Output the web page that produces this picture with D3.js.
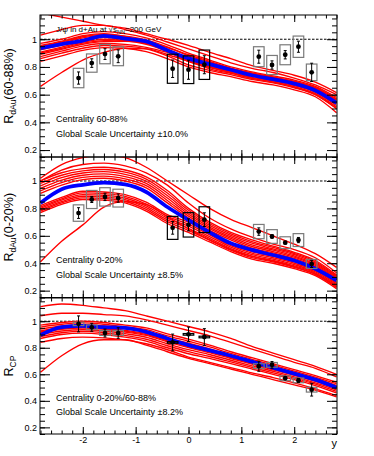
<!DOCTYPE html>
<html>
<head>
<meta charset="utf-8">
<script src="https://cdn.jsdelivr.net/npm/d3@7"></script>
<style>
body { margin: 0; background: #fff; }
svg { display: block; font-family: "Liberation Sans", Arial, Helvetica, sans-serif; }
</style>
</head>
<body>
<div id="chart"></div>
<script>

//Rapidity grid of the model curves
var curveY = [-2.8,-2.4,-2.0,-1.6,-1.2,-0.8,-0.4,0,0.4,0.8,1.2,1.6,2.0,2.4,2.8];

//Data points: rapidity of each bin, and the mid-rapidity flag (black boxes)
var pointY = [-2.08,-1.83,-1.58,-1.33,-0.3,0,0.3,1.33,1.58,1.83,2.08,2.33];
var midRap = [0,0,0,0,1,1,1,0,0,0,0,0];

//R_dAu 60-88%
var rPeri = [0.72,0.828,0.893,0.877,0.787,0.78,0.816,0.874,0.814,0.888,0.946,0.761];
var statPeri = [0.044,0.031,0.039,0.046,0.063,0.069,0.065,0.047,0.03,0.03,0.04,0.066];
var sysPeri = [0.07,0.066,0.07,0.068,0.105,0.1,0.106,0.072,0.069,0.072,0.077,0.06];

//R_dAu 0-20%
var rCent = [0.766,0.865,0.884,0.875,0.658,0.68,0.718,0.631,0.595,0.55,0.569,0.395];
var statCent = [0.039,0.022,0.027,0.03,0.046,0.044,0.05,0.027,0.012,0.01,0.019,0.026];
var sysCent = [0.06,0.066,0.067,0.065,0.084,0.089,0.094,0.052,0.05,0.043,0.047,0.033];

//R_CP
var rCP = [0.98,0.954,0.911,0.911,0.84,0.901,0.881,0.661,0.671,0.57,0.554,0.484];
var statCP = [0.06,0.03,0.03,0.04,0.063,0.055,0.063,0.038,0.025,0.01,0.015,0.048];
var sysCP = [0.013,0.018,0.018,0.018,0.006,0.006,0.006,0.018,0.018,0.018,0.018,0.018];

//Model curves, 60-88%
var bluePeri = [0.935,0.965,0.99,1.025,1.005,0.985,0.92,0.862,0.82,0.78,0.74,0.712,0.68,0.63,0.54];
var redPeri = [
  [0.86,0.90,0.935,0.955,0.95,0.93,0.88,0.815,0.775,0.745,0.71,0.685,0.65,0.60,0.50],
  [0.875,0.914,0.95,0.969,0.963,0.941,0.905,0.86,0.828,0.784,0.749,0.721,0.689,0.643,0.557],
  [0.955,0.986,1.025,1.041,1.02,0.975,0.91,0.839,0.796,0.76,0.725,0.699,0.665,0.617,0.522],
  [0.907,0.943,0.98,0.998,0.989,0.964,0.914,0.852,0.807,0.769,0.734,0.707,0.674,0.626,0.534],
  [0.923,0.957,0.995,1.012,1.001,0.976,0.926,0.863,0.818,0.776,0.741,0.714,0.681,0.634,0.546],
  [0.938,0.971,1.01,1.026,1.014,0.987,0.925,0.845,0.786,0.753,0.718,0.692,0.658,0.608,0.511],
  [0.891,0.928,0.964,0.983,0.985,0.975,0.94,0.888,0.84,0.792,0.757,0.728,0.697,0.652,0.569],
  [0.97,1.0,1.04,1.055,1.04,1.01,0.96,0.90,0.85,0.80,0.765,0.735,0.705,0.66,0.58],
  [0.90,0.935,0.972,0.99,0.995,0.97,0.92,0.858,0.813,0.772,0.737,0.71,0.677,0.63,0.54],
  [0.948,0.98,1.018,1.034,1.022,0.995,0.944,0.88,0.834,0.788,0.753,0.725,0.693,0.648,0.563],
  [1.19,1.16,1.13,1.10,1.08,1.04,1.0,0.955,0.905,0.86,0.81,0.775,0.74,0.69,0.615],
  [1.03,1.07,1.1,1.1,1.07,1.03,0.98,0.93,0.88,0.83,0.79,0.76,0.72,0.67,0.6],
  [0.66,0.76,0.85,0.905,0.935,0.93,0.89,0.84,0.8,0.76,0.72,0.69,0.655,0.6,0.5],
  [0.84,0.88,0.92,0.94,0.935,0.91,0.86,0.8,0.76,0.73,0.695,0.67,0.635,0.585,0.47]
];

//Model curves, 0-20%
var blueCent = [0.84,0.94,0.972,0.988,0.975,0.92,0.81,0.715,0.625,0.545,0.497,0.46,0.42,0.36,0.275];
var redCent = [
  [0.91,0.97,1.01,1.02,1.0,0.95,0.84,0.73,0.64,0.57,0.51,0.475,0.435,0.375,0.28],
  [0.928,0.988,1.026,1.036,1.016,0.966,0.858,0.744,0.652,0.581,0.522,0.485,0.444,0.384,0.287],
  [0.946,1.006,1.042,1.052,1.032,0.982,0.876,0.758,0.664,0.592,0.534,0.495,0.453,0.393,0.294],
  [0.964,1.024,1.058,1.068,1.048,0.998,0.894,0.772,0.676,0.603,0.546,0.505,0.462,0.402,0.301],
  [0.982,1.042,1.074,1.084,1.064,1.014,0.912,0.786,0.688,0.614,0.558,0.515,0.471,0.411,0.308],
  [1.0,1.06,1.09,1.10,1.08,1.03,0.93,0.80,0.70,0.625,0.57,0.525,0.48,0.42,0.315],
  [0.77,0.83,0.865,0.86,0.84,0.78,0.69,0.625,0.555,0.485,0.43,0.40,0.36,0.31,0.215],
  [0.78,0.84,0.877,0.872,0.852,0.793,0.703,0.64,0.568,0.496,0.441,0.41,0.37,0.319,0.224],
  [0.79,0.85,0.889,0.884,0.864,0.806,0.716,0.655,0.581,0.507,0.452,0.42,0.38,0.328,0.233],
  [0.80,0.86,0.901,0.896,0.876,0.819,0.729,0.67,0.594,0.518,0.463,0.43,0.39,0.337,0.242],
  [0.81,0.87,0.913,0.908,0.888,0.832,0.742,0.685,0.607,0.529,0.474,0.44,0.40,0.346,0.251],
  [0.82,0.88,0.925,0.92,0.90,0.845,0.755,0.70,0.62,0.54,0.485,0.45,0.41,0.355,0.26],
  [1.02,1.12,1.17,1.19,1.17,1.10,1.0,0.90,0.80,0.72,0.66,0.60,0.54,0.47,0.37],
  [1.0,1.08,1.12,1.13,1.11,1.06,0.97,0.84,0.73,0.65,0.59,0.54,0.5,0.44,0.33],
  [0.41,0.56,0.68,0.81,0.85,0.83,0.74,0.65,0.57,0.5,0.45,0.415,0.375,0.32,0.23]
];

//Model curves, R_CP
var blueCP = [0.895,0.955,0.965,0.955,0.95,0.92,0.87,0.82,0.78,0.74,0.695,0.65,0.605,0.56,0.5];
var redCP = [
  [0.87,0.90,0.91,0.90,0.88,0.85,0.80,0.755,0.72,0.68,0.64,0.60,0.56,0.515,0.46],
  [0.884,0.913,0.923,0.913,0.893,0.864,0.815,0.771,0.734,0.693,0.652,0.611,0.571,0.526,0.471],
  [0.899,0.926,0.936,0.926,0.906,0.879,0.83,0.786,0.749,0.706,0.664,0.623,0.581,0.536,0.483],
  [0.913,0.939,0.949,0.939,0.919,0.893,0.845,0.802,0.763,0.719,0.676,0.634,0.592,0.547,0.494],
  [0.927,0.951,0.961,0.951,0.931,0.907,0.86,0.818,0.777,0.731,0.689,0.646,0.603,0.558,0.506],
  [0.941,0.964,0.974,0.964,0.944,0.921,0.875,0.834,0.791,0.744,0.701,0.657,0.614,0.569,0.517],
  [0.956,0.977,0.987,0.977,0.957,0.936,0.89,0.849,0.806,0.757,0.713,0.669,0.624,0.579,0.529],
  [0.97,0.99,1.0,0.99,0.97,0.95,0.905,0.865,0.82,0.77,0.725,0.68,0.635,0.59,0.54],
  [0.92,0.945,0.955,0.945,0.925,0.9,0.852,0.81,0.77,0.725,0.683,0.64,0.598,0.552,0.5],
  [1.11,1.13,1.12,1.10,1.08,1.04,1.0,0.96,0.92,0.87,0.81,0.76,0.71,0.66,0.6],
  [1.04,1.06,1.06,1.05,1.04,1.01,0.97,0.93,0.89,0.84,0.79,0.74,0.69,0.645,0.58],
  [0.615,0.74,0.83,0.86,0.86,0.82,0.77,0.72,0.68,0.64,0.6,0.56,0.52,0.48,0.43],
  [0.84,0.87,0.88,0.875,0.86,0.83,0.785,0.73,0.69,0.65,0.61,0.575,0.535,0.49,0.44]
];

//Y tick labels
var yTickVals = [0.2,0.4,0.6,0.8,1];
var xTickVals = [-2,-1,0,1,2];

//Width and height
var w = 374;
var h = 456;
var left = 40;
var right = 337;

var panels = [
  {top: 15, bottom: 157, title: "(60-88%)", sub: "dAu", r: rPeri, stat: statPeri, sys: sysPeri,
   red: redPeri, blue: bluePeri, text1: "Centrality 60-88%", text2: "Global Scale Uncertainty \u00b110.0%"},
  {top: 157, bottom: 297.5, title: "(0-20%)", sub: "dAu", r: rCent, stat: statCent, sys: sysCent,
   red: redCent, blue: blueCent, text1: "Centrality 0-20%", text2: "Global Scale Uncertainty \u00b18.5%"},
  {top: 298, bottom: 434, title: "", sub: "CP", r: rCP, stat: statCP, sys: sysCP,
   red: redCP, blue: blueCP, text1: "Centrality 0-20%/60-88%", text2: "Global Scale Uncertainty \u00b18.2%"}
];

var xScale = d3.scaleLinear().domain([-2.8, 2.8]).range([left + 0.5, right - 0.5]);

var svg = d3.select("#chart")
  .append("svg")
  .attr("width", w)
  .attr("height", h);

var yMinor = d3.range(3, 24).map(function(i){ return i * 0.05; });
var xMinor = d3.range(-14, 15).map(function(i){ return i * 0.2; });

panels.forEach(function(p, pi){

  var yScale = d3.scaleLinear().domain([0.15, 1.175]).range([p.bottom, p.top]);

  var g = svg.append("g").attr("class", "panel");

  g.append("clipPath")
    .attr("id", "clip" + pi)
    .append("rect")
    .attr("x", left).attr("y", p.top)
    .attr("width", right - left).attr("height", p.bottom - p.top);

  //dashed line at unity
  g.append("line")
    .attr("x1", left).attr("x2", right)
    .attr("y1", yScale(1)).attr("y2", yScale(1))
    .attr("stroke", "#000")
    .attr("stroke-width", 1)
    .attr("stroke-dasharray", "2.5,1.5");

  g.append("text")
    .attr("x", 56).attr("y", yScale(0.40))
    .attr("font-size", 9).attr("fill", "#000")
    .text(p.text1);
  g.append("text")
    .attr("x", 56).attr("y", yScale(0.295))
    .attr("font-size", 9).attr("fill", "#000")
    .text(p.text2);

  var line = d3.line()
    .x(function(d, i){ return xScale(curveY[i]); })
    .y(function(d){ return yScale(d); })
    .curve(d3.curveMonotoneX);

  var curves = g.append("g").attr("clip-path", "url(#clip" + pi + ")");

  curves.selectAll("path.red")
    .data(p.red)
    .enter()
    .append("path")
    .attr("class", "red")
    .attr("d", line)
    .attr("fill", "none")
    .attr("stroke", "#ff0000")
    .attr("stroke-width", 1.35);

  curves.append("path")
    .attr("d", line(p.blue))
    .attr("fill", "none")
    .attr("stroke", "#0000ff")
    .attr("stroke-width", 3.8);

  //title sits over the curves
  if (pi === 0) {
    var t = g.append("text")
      .attr("x", 56).attr("y", yScale(1.053))
      .attr("font-size", 8).attr("fill", "#000");
    t.append("tspan").text("J/\u03c8 in d+Au at \u221as");
    t.append("tspan").attr("font-size", 5.5).attr("dy", 2).text("NN");
    t.append("tspan").attr("dy", -2).text("=200 GeV");
  }

  //systematic boxes
  g.selectAll("rect.sys")
    .data(p.r)
    .enter()
    .append("rect")
    .attr("class", "sys")
    .attr("x", function(d, i){ return xScale(pointY[i] - 0.1); })
    .attr("y", function(d, i){ return yScale(d + p.sys[i]); })
    .attr("width", function(d, i){ return xScale(pointY[i] + 0.1) - xScale(pointY[i] - 0.1); })
    .attr("height", function(d, i){ return yScale(d - p.sys[i]) - yScale(d + p.sys[i]); })
    .attr("fill", "none")
    .attr("stroke", function(d, i){ return midRap[i] ? "#000" : "#7a7a7a"; })
    .attr("stroke-width", 1.2);

  //stat error bars
  g.selectAll("line.stat")
    .data(p.r)
    .enter()
    .append("line")
    .attr("class", "stat")
    .attr("x1", function(d, i){ return xScale(pointY[i]); })
    .attr("x2", function(d, i){ return xScale(pointY[i]); })
    .attr("y1", function(d, i){ return yScale(d - p.stat[i]); })
    .attr("y2", function(d, i){ return yScale(d + p.stat[i]); })
    .attr("stroke", "#000")
    .attr("stroke-width", 1);

  [-1, 1].forEach(function(s){
    g.selectAll("line.cap" + (s + 1))
      .data(p.r)
      .enter()
      .append("line")
      .attr("class", "cap" + (s + 1))
      .attr("x1", function(d, i){ return xScale(pointY[i]) - 1.5; })
      .attr("x2", function(d, i){ return xScale(pointY[i]) + 1.5; })
      .attr("y1", function(d, i){ return yScale(d + s * p.stat[i]); })
      .attr("y2", function(d, i){ return yScale(d + s * p.stat[i]); })
      .attr("stroke", "#000")
      .attr("stroke-width", 1);
  });

  g.selectAll("circle")
    .data(p.r)
    .enter()
    .append("circle")
    .attr("cx", function(d, i){ return xScale(pointY[i]); })
    .attr("cy", function(d){ return yScale(d); })
    .attr("r", 2.4)
    .attr("fill", "#000");

  //Axes
  g.append("g").attr("class", "axis").attr("transform", "translate(" + left + ",0)")
    .call(d3.axisLeft(yScale).tickValues(yTickVals).tickSize(-10).tickPadding(3)
      .tickFormat(function(d){ return d === 1 ? "1" : d.toFixed(1); }));
  g.append("g").attr("class", "axis").attr("transform", "translate(" + left + ",0)")
    .call(d3.axisLeft(yScale).tickValues(yMinor).tickSize(-5).tickFormat(""));
  g.append("g").attr("class", "axis").attr("transform", "translate(" + right + ",0)")
    .call(d3.axisRight(yScale).tickValues(yTickVals).tickSize(-10).tickFormat(""));
  g.append("g").attr("class", "axis").attr("transform", "translate(" + right + ",0)")
    .call(d3.axisRight(yScale).tickValues(yMinor).tickSize(-5).tickFormat(""));

  g.append("g").attr("class", "axis").attr("transform", "translate(0," + p.bottom + ")")
    .call(d3.axisBottom(xScale).tickValues(xTickVals).tickSize(-7).tickPadding(3)
      .tickFormat(pi === 2 ? function(d){ return String(d); } : ""));
  g.append("g").attr("class", "axis").attr("transform", "translate(0," + p.bottom + ")")
    .call(d3.axisBottom(xScale).tickValues(xMinor).tickSize(-3.5).tickFormat(""));
  g.append("g").attr("class", "axis").attr("transform", "translate(0," + p.top + ")")
    .call(d3.axisTop(xScale).tickValues(xTickVals).tickSize(-7).tickFormat(""));
  g.append("g").attr("class", "axis").attr("transform", "translate(0," + p.top + ")")
    .call(d3.axisTop(xScale).tickValues(xMinor).tickSize(-3.5).tickFormat(""));

  //frame
  g.append("rect")
    .attr("x", left).attr("y", p.top)
    .attr("width", right - left).attr("height", p.bottom - p.top)
    .attr("fill", "none")
    .attr("stroke", "#000")
    .attr("stroke-width", 1);

  //y title
  var yt = g.append("text")
    .attr("transform", "translate(13," + ((p.top + p.bottom) / 2) + ") rotate(-90)")
    .attr("text-anchor", "middle")
    .attr("font-size", 12.5)
    .attr("fill", "#000");
  yt.append("tspan").text("R");
  yt.append("tspan").attr("font-size", 8.5).attr("dy", 3).text(p.sub);
  if (p.title) yt.append("tspan").attr("dy", -3).text(p.title);
});

svg.selectAll(".axis .domain").remove();
svg.selectAll(".axis text")
  .attr("font-family", "'Liberation Sans', Arial, Helvetica, sans-serif")
  .attr("font-size", 9)
  .attr("fill", "#000");
svg.selectAll(".axis line").attr("stroke", "#000");

svg.append("text")
  .attr("x", right)
  .attr("y", 447)
  .attr("text-anchor", "end")
  .attr("font-size", 11)
  .attr("fill", "#000")
  .text("y");

</script>
</body>
</html>
